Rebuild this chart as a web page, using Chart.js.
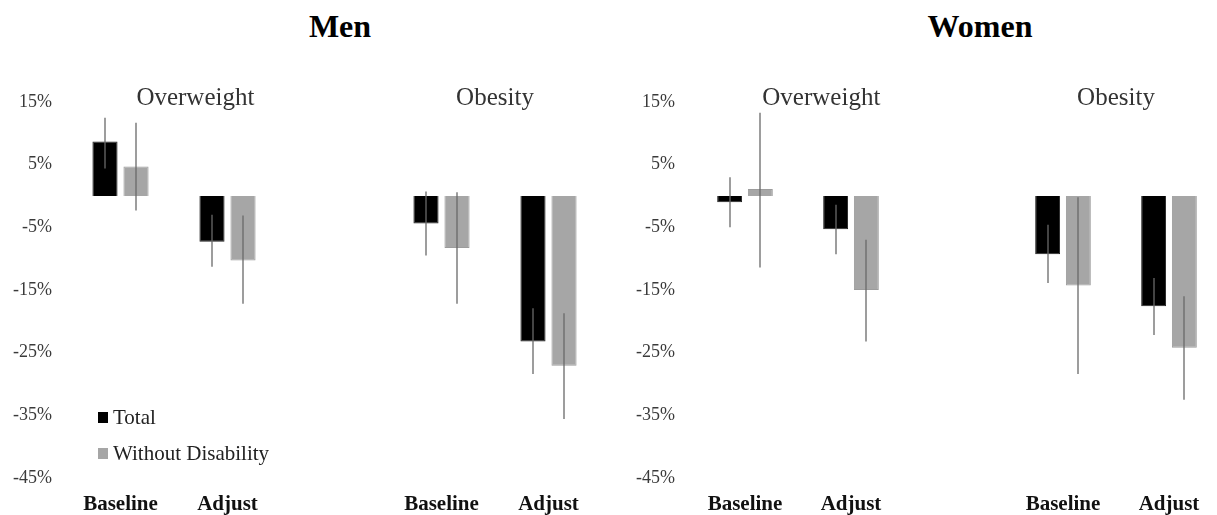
<!DOCTYPE html>
<html>
<head>
<meta charset="utf-8">
<script src="https://cdn.jsdelivr.net/npm/chart.js@4"></script>
<style>
  html, body { margin:0; padding:0; background:#fff; width:1217px; height:515px; overflow:hidden; position:relative; }
  .title { position:absolute; top:8px; font: bold 32px "Liberation Serif", "Times New Roman", serif; color:#000; transform:translateX(-50%); white-space:nowrap; }
  canvas { position:absolute; top:0; }
</style>
</head>
<body>
<div class="title" style="left:340px">Men</div>
<div class="title" style="left:980px">Women</div>
<canvas id="men" width="602" height="515" style="left:0"></canvas>
<canvas id="women" width="614" height="515" style="left:608px"></canvas>
<script>
// ---- data (percent) ----
const categories = ['Baseline', 'Adjust', '', 'Baseline', 'Adjust'];
const groupLabels = ['Overweight', 'Obesity'];
const seriesNames = ['Total', 'Without Disability'];
const yTicks = [15, 5, -5, -15, -25, -35, -45];

const menTotal    = [8.7, -7.3, null, -4.4, -23.2];
const menTotalLo  = [4.4, -11.3, null, -9.5, -28.4];
const menTotalHi  = [12.5, -3.0, null, 0.7, -17.9];
const menWD       = [4.7, -10.3, null, -8.3, -27.1];
const menWDLo     = [-2.3, -17.2, null, -17.2, -35.6];
const menWDHi     = [11.7, -3.1, null, 0.6, -18.7];

const womenTotal   = [-1.0, -5.3, null, -9.3, -17.6];
const womenTotalLo = [-5.0, -9.3, null, -13.9, -22.2];
const womenTotalHi = [3.0, -1.4, null, -4.6, -13.1];
const womenWD      = [1.1, -15.0, null, -14.3, -24.2];
const womenWDLo    = [-11.4, -23.2, null, -28.4, -32.5];
const womenWDHi    = [13.3, -7.0, null, -0.2, -16.0];

const SERIF = '"Liberation Serif", "Times New Roman", serif';
const colTotal = '#000000';
const colWD = '#a6a6a6';

const errorBars = {
  id: 'errorBars',
  afterDatasetsDraw(chart) {
    const ctx = chart.ctx, ys = chart.scales.y;
    ctx.save();
    ctx.strokeStyle = 'rgba(105,105,105,0.65)';
    ctx.lineWidth = 2;
    chart.data.datasets.forEach((ds, d) => {
      const meta = chart.getDatasetMeta(d);
      meta.data.forEach((el, i) => {
        if (ds.data[i] == null) return;
        const y1 = ys.getPixelForValue(ds.errLow[i]);
        const y2 = ys.getPixelForValue(ds.errHigh[i]);
        ctx.beginPath();
        ctx.moveTo(Math.round(el.x), y1);
        ctx.lineTo(Math.round(el.x), y2);
        ctx.stroke();
      });
    });
    ctx.restore();
  }
};

const groupTitles = {
  id: 'groupTitles',
  afterDraw(chart, args, opts) {
    const ctx = chart.ctx, xs = chart.scales.x, top = chart.chartArea.top;
    ctx.save();
    ctx.font = '25px ' + SERIF;
    ctx.fillStyle = '#333';
    ctx.textAlign = 'center';
    ctx.textBaseline = 'alphabetic';
    ctx.fillText(groupLabels[0], xs.getPixelForValue(opts.pos0), top + 3);
    ctx.fillText(groupLabels[1], xs.getPixelForValue(3.5), top + 3);
    ctx.restore();
  }
};

const innerLegend = {
  id: 'innerLegend',
  afterDraw(chart, args, opts) {
    if (!opts.show) return;
    const ctx = chart.ctx, a = chart.chartArea;
    ctx.save();
    ctx.font = '21px ' + SERIF;
    ctx.textBaseline = 'middle';
    chart.data.datasets.forEach((ds, d) => {
      const cy = a.top + 315 + d * 36;
      const x = a.left + 31;
      ctx.fillStyle = ds.backgroundColor;
      ctx.fillRect(x, cy - 5, 10, 11);
      ctx.fillStyle = '#222';
      ctx.fillText(ds.label, x + 15, cy + 1);
    });
    ctx.restore();
  }
};

function makeChart(id, total, tLo, tHi, wd, wLo, wHi, yWidth, yPad, pos0, showLegend) {
  return new Chart(document.getElementById(id), {
    type: 'bar',
    data: {
      labels: categories,
      datasets: [
        { label: seriesNames[0], data: total, errLow: tLo, errHigh: tHi,
          backgroundColor: colTotal, borderColor: '#222', borderWidth: 1,
          categoryPercentage: 0.58, barPercentage: 0.81 },
        { label: seriesNames[1], data: wd, errLow: wLo, errHigh: wHi,
          backgroundColor: colWD, borderColor: '#9c9c9c', borderWidth: 1,
          categoryPercentage: 0.58, barPercentage: 0.81 }
      ]
    },
    options: {
      responsive: false,
      animation: false,
      devicePixelRatio: 1,
      layout: { padding: { top: 102, right: 0, bottom: 0, left: 0 } },
      plugins: {
        legend: { display: false },
        tooltip: { enabled: false },
        groupTitles: { pos0: pos0 },
        innerLegend: { show: showLegend }
      },
      scales: {
        x: {
          grid: { display: false },
          border: { display: false },
          ticks: { color: '#111', font: { family: SERIF, size: 21, weight: 'bold' }, padding: 6, maxRotation: 0, autoSkip: false },
          afterFit: s => { s.height = 37; }
        },
        y: {
          min: -45, max: 15,
          afterBuildTicks: s => { s.ticks = yTicks.map(v => ({ value: v })); },
          border: { display: false },
          grid: {
            drawTicks: false,
            color: c => (c.tick && c.tick.value === 0) ? '#d9d9d9' : 'rgba(0,0,0,0)',
            lineWidth: 2
          },
          ticks: { color: '#3a3a3a', font: { family: SERIF, size: 18 }, padding: yPad, callback: v => v + '%' },
          afterFit: s => { s.width = yWidth; }
        }
      }
    },
    plugins: [errorBars, groupTitles, innerLegend]
  });
}

makeChart('men', menTotal, menTotalLo, menTotalHi, menWD, menWDLo, menWDHi, 67, 15, 0.7, true);
makeChart('women', womenTotal, womenTotalLo, womenTotalHi, womenWD, womenWDLo, womenWDHi, 84, 17, 0.72, false);
</script>
</body>
</html>
